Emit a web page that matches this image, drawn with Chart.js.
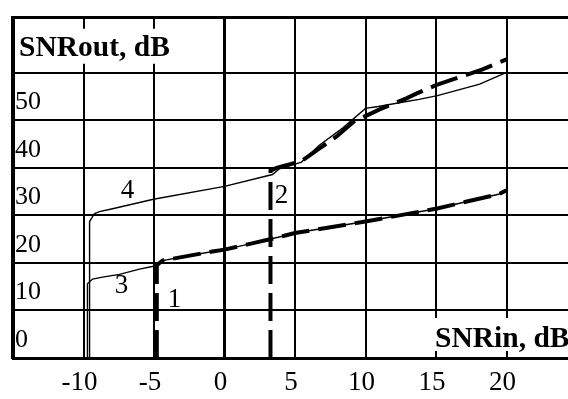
<!DOCTYPE html>
<html>
<head>
<meta charset="utf-8">
<script src="https://cdn.jsdelivr.net/npm/chart.js@4.4.1/dist/chart.umd.min.js"></script>
<style>
  html, body { margin: 0; padding: 0; background: #fff; overflow: hidden; }
  #wrap { width: 568px; height: 399px; }
</style>
</head>
<body>
<div id="wrap"><canvas id="snrChart"></canvas></div>
<script>
// SNRout vs SNRin (dB)
const curve1X = [-4.8, -4.8, -4.4, -0.85, 0, 1.8, 4.1, 5, 10, 15, 19.5, 20];
const curve1Y = [0, 19.5, 20.5, 22.4, 22.8, 24.0, 25.6, 26.3, 28.7, 31.4, 34.5, 35.3];

const curve2X = [3.26, 3.26, 3.69, 5.46, 6.74, 7.95, 9.2, 10.3, 11.0, 12.9, 13.6, 15.0, 16.3, 18.3, 19.1, 20];
const curve2Y = [0, 39.4, 40, 41.4, 44.1, 46.6, 49.8, 51.3, 52.3, 54.6, 55.6, 57.4, 58.7, 60.7, 61.7, 62.8];

const curve3X = [-9.72, -9.72, -9.36, -8.65, -7.45, -6.03, -5.04, -4.8, -4.4, -0.85, 0, 1.8, 4.1, 5, 10, 15, 19.5, 20];
const curve3Y = [0, 15.6, 16.6, 17.0, 17.6, 18.7, 19.3, 19.5, 20.5, 22.4, 22.8, 24.0, 25.6, 26.3, 28.7, 31.4, 34.5, 35.3];

const curve4X = [-9.6, -9.57, -9.22, -8.87, -7.94, -5.04, 0, 3.4, 3.9, 5.46, 6.7, 8.4, 10.0, 10.9, 12.8, 13.8, 15.1, 18.1, 20];
const curve4Y = [0, 28.7, 30.4, 30.8, 31.4, 33.4, 36.1, 38.6, 39.8, 41.2, 44.7, 48.4, 52.5, 52.9, 53.9, 54.4, 55.2, 57.6, 60.1];

const curveNames = ['1', '2', '3', '4'];
const nameX = [-3.55, 4.04, -7.3, -6.88];
const nameY = [12.2, 34.0, 15.2, 35.1];

const xTicks = [-15, -10, -5, 0, 5, 10, 15, 20];
const yTicks = [0, 10, 20, 30, 40, 50, 60];
const xMin = -15, xMax = 24.36;
const yMin = 0, yMax = 71.6;
const xTitle = 'SNRin, dB';
const yTitle = 'SNRout, dB';

const serif = '"Liberation Serif", "Times New Roman", serif';

function pts(xs, ys) {
    return xs.map((x, i) => ({ x: x, y: ys[i] }));
}

const thin = { borderColor: '#000', borderWidth: 1.4, pointRadius: 0, tension: 0, fill: false, order: 2 };
const thick = { borderColor: '#000', borderWidth: 4, borderDash: [28, 9], pointRadius: 0, tension: 0, fill: false, order: 1 };

// axis titles with white box + curve numbers
const textPlugin = {
    id: 'curveText',
    beforeDatasetsDraw(chart) {
        const { ctx, chartArea, scales: { x, y } } = chart;
        ctx.save();
        ctx.fillStyle = '#fff';
        ctx.fillRect(chartArea.left + 3, y.getPixelForValue(60) - 44, 162, 35);
        ctx.fillRect(x.getPixelForValue(15) - 4, y.getPixelForValue(0) - 40, 140, 33);
        ctx.fillStyle = '#000';
        ctx.font = 'bold 29.5px ' + serif;
        ctx.textAlign = 'left';
        ctx.textBaseline = 'alphabetic';
        ctx.fillText(yTitle, chartArea.left + 6, y.getPixelForValue(60) - 17);
        ctx.fillText(xTitle, x.getPixelForValue(15) - 1, y.getPixelForValue(0) - 11);
        ctx.font = '27px ' + serif;
        ctx.textAlign = 'center';
        ctx.textBaseline = 'middle';
        curveNames.forEach((n, i) => {
            ctx.fillText(n, x.getPixelForValue(nameX[i]), y.getPixelForValue(nameY[i]));
        });
        ctx.restore();
    }
};

const ctx = document.getElementById('snrChart').getContext('2d');
const snrChart = new Chart(ctx, {
    type: 'line',
    data: {
        datasets: [
            Object.assign({ label: '1', data: pts(curve1X, curve1Y) }, thick),
            Object.assign({ label: '2', data: pts(curve2X, curve2Y) }, thick),
            Object.assign({ label: '3', data: pts(curve3X, curve3Y) }, thin),
            Object.assign({ label: '4', data: pts(curve4X, curve4Y) }, thin)
        ]
    },
    options: {
        responsive: true,
        maintainAspectRatio: false,
        animation: false,
        layout: { padding: { left: 13, top: 8, right: 0, bottom: 0 } },
        plugins: { legend: { display: false }, tooltip: { enabled: false } },
        scales: {
            x: {
                type: 'linear',
                min: xMin,
                max: xMax,
                afterBuildTicks: s => { s.ticks = xTicks.map(v => ({ value: v })); },
                afterFit: s => { s.height = 41; },
                grid: { color: '#000', lineWidth: c => (c.tick && c.tick.value === 0 ? 3 : 2), drawTicks: false },
                border: { color: '#000', width: 3 },
                ticks: {
                    color: '#000',
                    padding: 9,
                    labelOffset: -4,
                    maxRotation: 0,
                    autoSkip: false,
                    font: { family: serif, size: 27 },
                    callback: v => (v === xMin ? '' : String(v))
                }
            },
            y: {
                type: 'linear',
                min: yMin,
                max: yMax,
                afterBuildTicks: s => { s.ticks = yTicks.concat([yMax]).map(v => ({ value: v })); },
                afterFit: s => { s.width = 0; },
                grid: { color: '#000', lineWidth: c => (c.tick && c.tick.value === yMax ? 3 : 2), drawTicks: false },
                border: { color: '#000', width: 4 },
                ticks: {
                    color: '#000',
                    mirror: true,
                    padding: 2,
                    labelOffset: -18,
                    font: { family: serif, size: 26 },
                    callback: v => (v === yMax || v === 60 ? '' : String(v))
                }
            }
        }
    },
    plugins: [textPlugin]
});
</script>
</body>
</html>
